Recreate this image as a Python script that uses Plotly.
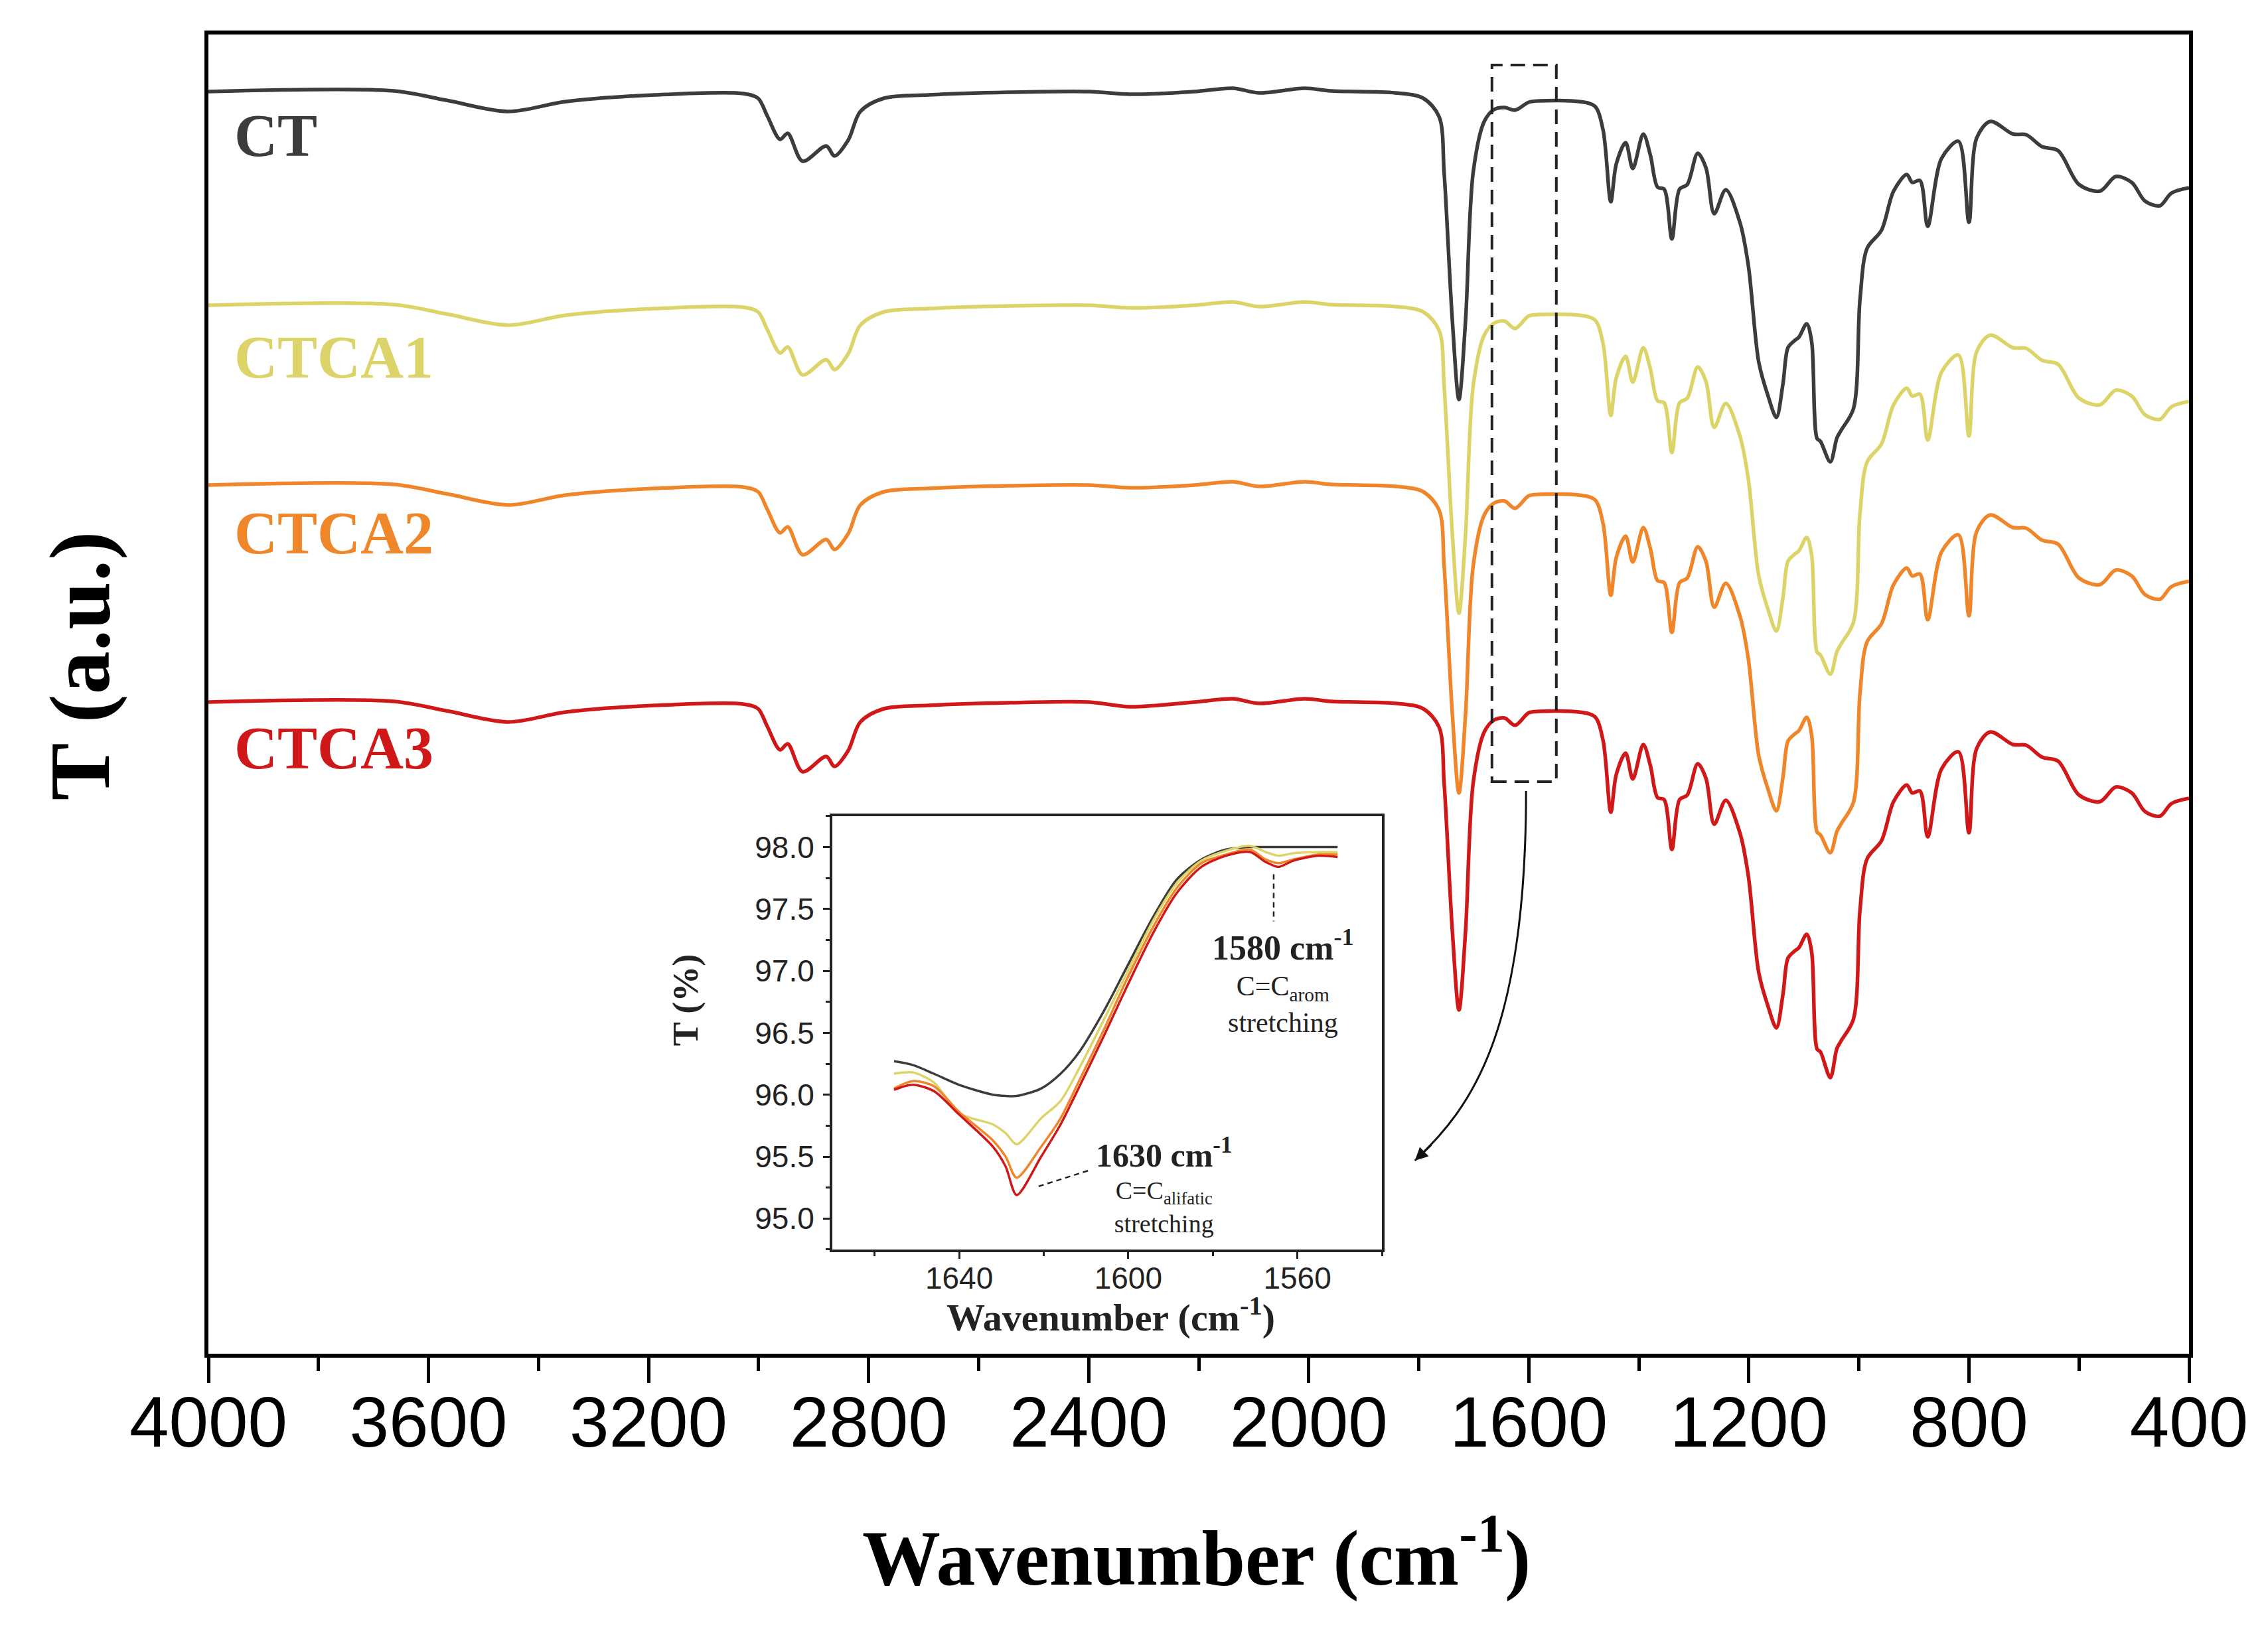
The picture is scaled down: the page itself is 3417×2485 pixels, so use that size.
import plotly.graph_objects as go

# ---------------- main spectra (arbitrary units, stacked) ----------------
wavenumber = [4000, 3663, 3568, 3455, 3350, 3188, 3028, 3001, 2984, 2961,
              2947, 2920, 2877, 2862, 2837, 2815, 2772, 2691, 2545, 2399,
              2325, 2208, 2138, 2091, 2007, 1960, 1843, 1792, 1763, 1754,
              1739, 1727, 1715, 1701, 1681, 1663, 1644, 1625, 1600, 1581,
              1509, 1480, 1465, 1451, 1441, 1424, 1411, 1392, 1379, 1366,
              1354, 1340, 1326, 1312, 1293, 1278, 1263, 1242, 1216, 1201,
              1182, 1165, 1150, 1138, 1129, 1118, 1109, 1095, 1086, 1076,
              1070, 1052, 1040, 1032, 1010, 998, 985, 959, 937, 913,
              903, 889, 875, 850, 819, 800, 786, 761, 720, 696,
              667, 638, 600, 562, 533, 504, 480, 453, 432, 400]

t_ct = [1907, 1908, 1894, 1877, 1892, 1902, 1904, 1897, 1870, 1835,
        1844, 1802, 1825, 1810, 1834, 1877, 1897, 1902, 1906, 1907,
        1903, 1907, 1912, 1905, 1912, 1908, 1905, 1897, 1869, 1786,
        1562, 1443, 1562, 1786, 1862, 1880, 1883, 1879, 1891, 1893,
        1892, 1885, 1849, 1741, 1798, 1830, 1791, 1843, 1811, 1763,
        1760, 1685, 1760, 1767, 1814, 1792, 1723, 1759, 1709, 1645,
        1499, 1448, 1416, 1467, 1521, 1531, 1537, 1557, 1531, 1384,
        1380, 1349, 1385, 1397, 1429, 1594, 1671, 1698, 1757, 1782,
        1770, 1773, 1704, 1806, 1832, 1710, 1837, 1862, 1843, 1842,
        1824, 1818, 1767, 1757, 1779, 1770, 1742, 1735, 1754, 1762]

t_ctca1 = [1585, 1586, 1572, 1555, 1570, 1580, 1582, 1575, 1548, 1513,
           1522, 1480, 1503, 1488, 1512, 1555, 1575, 1580, 1584, 1585,
           1581, 1585, 1590, 1583, 1590, 1586, 1583, 1575, 1547, 1464,
           1240, 1121, 1240, 1464, 1540, 1558, 1561, 1550, 1569, 1571,
           1570, 1563, 1527, 1419, 1476, 1508, 1469, 1521, 1489, 1441,
           1438, 1363, 1438, 1445, 1492, 1470, 1401, 1437, 1387, 1323,
           1177, 1126, 1094, 1145, 1199, 1209, 1215, 1235, 1209, 1062,
           1058, 1029, 1063, 1075, 1107, 1272, 1349, 1376, 1435, 1460,
           1448, 1451, 1382, 1484, 1510, 1388, 1515, 1540, 1521, 1520,
           1502, 1496, 1445, 1435, 1457, 1448, 1420, 1413, 1432, 1440]

t_ctca2 = [1314, 1315, 1301, 1284, 1299, 1309, 1311, 1304, 1277, 1242,
           1251, 1209, 1232, 1217, 1241, 1284, 1304, 1309, 1313, 1314,
           1310, 1314, 1319, 1312, 1319, 1315, 1312, 1304, 1276, 1193,
           969, 850, 969, 1193, 1269, 1287, 1290, 1279, 1298, 1300,
           1299, 1292, 1256, 1148, 1205, 1237, 1198, 1250, 1218, 1170,
           1167, 1092, 1167, 1174, 1221, 1199, 1130, 1166, 1116, 1052,
           906, 855, 823, 874, 928, 938, 944, 964, 938, 791,
           787, 760, 792, 804, 836, 1001, 1078, 1105, 1164, 1189,
           1177, 1180, 1111, 1213, 1239, 1117, 1244, 1269, 1250, 1249,
           1231, 1225, 1174, 1164, 1186, 1177, 1149, 1142, 1161, 1169]

t_ctca3 = [987, 988, 974, 957, 972, 982, 984, 977, 950, 915,
           924, 882, 905, 890, 914, 957, 977, 982, 986, 987,
           980, 987, 992, 985, 992, 988, 985, 977, 949, 866,
           642, 523, 642, 866, 942, 960, 963, 952, 971, 973,
           972, 965, 929, 821, 878, 910, 871, 923, 891, 843,
           840, 765, 840, 847, 894, 872, 803, 839, 789, 725,
           579, 528, 496, 547, 601, 611, 617, 637, 611, 464,
           460, 421, 465, 477, 509, 674, 751, 778, 837, 862,
           850, 853, 784, 886, 912, 790, 917, 942, 923, 922,
           904, 898, 847, 837, 859, 850, 822, 815, 834, 842]

# ---------------- inset (T %) ----------------
inset_wn = [1655.4, 1651, 1646, 1640, 1632, 1629, 1626.4, 1620.6, 1616, 1611.5,
            1605.7, 1600.5, 1594.2, 1588.5, 1582.7, 1576.9, 1571.2, 1567.5,
            1564.5, 1561, 1555, 1550.5]
inset_ct = [96.27, 96.24, 96.17, 96.08, 96.00, 95.99, 95.99, 96.05, 96.17, 96.35,
            96.68, 97.02, 97.43, 97.74, 97.90, 97.98, 98.00, 98.00, 98.00, 98.00,
            98.00, 98.00]
inset_ctca1 = [96.17, 96.18, 96.10, 95.85, 95.76, 95.69, 95.60, 95.81, 95.95, 96.22,
               96.61, 96.97, 97.40, 97.71, 97.89, 97.97, 98.01, 97.96, 97.93, 97.95,
               97.96, 97.96]
inset_ctca2 = [96.05, 96.11, 96.07, 95.86, 95.63, 95.50, 95.33, 95.58, 95.81, 96.12,
               96.53, 96.92, 97.35, 97.67, 97.87, 97.94, 97.98, 97.90, 97.87, 97.90,
               97.94, 97.94]
inset_ctca3 = [96.04, 96.08, 96.03, 95.84, 95.58, 95.42, 95.19, 95.50, 95.76, 96.07,
               96.48, 96.86, 97.30, 97.63, 97.84, 97.93, 97.96, 97.88, 97.84, 97.89,
               97.93, 97.92]

names = ["CT", "CTCA1", "CTCA2", "CTCA3"]
colors = ["#3c3c3c", "#dcd468", "#f0862a", "#d01818"]
main_series = [t_ct, t_ctca1, t_ctca2, t_ctca3]
inset_series = [inset_ct, inset_ctca1, inset_ctca2, inset_ctca3]

SERIF = "Liberation Serif, Times New Roman, serif"
SANS = "Liberation Sans, Arial, sans-serif"

fig = go.Figure()
for n, c, s in zip(names, colors, main_series):
    fig.add_trace(go.Scatter(x=wavenumber, y=s, mode="lines", name=n,
                             line=dict(color=c, width=5.5, shape="spline", smoothing=0.9),
                             xaxis="x", yaxis="y", showlegend=False))
for n, c, s in zip(names, colors, inset_series):
    fig.add_trace(go.Scatter(x=inset_wn, y=s, mode="lines", name=n + " inset",
                             line=dict(color=c, width=3.5, shape="spline", smoothing=0.8),
                             xaxis="x2", yaxis="y2", showlegend=False))

fig.update_layout(
    width=3417, height=2485,
    margin=dict(l=306, r=127, t=44, b=453),
    paper_bgcolor="white", plot_bgcolor="white",
    xaxis=dict(range=[4000, 400], domain=[0, 1], anchor="y",
               showline=True, linecolor="black", linewidth=6, mirror=True,
               ticks="outside", ticklen=38, tickwidth=5, tickcolor="black",
               tick0=400, dtick=400, showgrid=False, zeroline=False,
               tickfont=dict(family=SANS, size=107, color="black"),
               ticklabelstandoff=-32,
               minor=dict(ticks="outside", ticklen=20, tickwidth=5, tickcolor="black",
                          dtick=200, tick0=400, showgrid=False)),
    yaxis=dict(range=[5, 1993], domain=[0, 1], anchor="x",
               showline=True, linecolor="black", linewidth=6, mirror=True,
               ticks="", showticklabels=False, showgrid=False, zeroline=False),
    xaxis2=dict(range=[1670, 1540], domain=[0.3150, 0.5925], anchor="y2",
                showline=True, linecolor="#222", linewidth=4, mirror=True,
                ticks="outside", ticklen=10, tickwidth=3, tickcolor="#222",
                tick0=1560, dtick=40, showgrid=False, zeroline=False,
                tickfont=dict(family=SANS, size=46, color="#222"),
                ticklabelstandoff=-10,
                minor=dict(ticks="outside", ticklen=6, tickwidth=3, tickcolor="#222",
                           dtick=20, tick0=1540, showgrid=False)),
    yaxis2=dict(range=[94.75, 98.25], domain=[0.0790, 0.4075], anchor="x2",
                showline=True, linecolor="#222", linewidth=4, mirror=True,
                ticks="outside", ticklen=10, tickwidth=3, tickcolor="#222",
                tick0=95, dtick=0.5, tickformat=".1f", showgrid=False, zeroline=False,
                tickfont=dict(family=SANS, size=46, color="#222"),
                ticklabelstandoff=4,
                minor=dict(ticks="outside", ticklen=6, tickwidth=3, tickcolor="#222",
                           dtick=0.25, showgrid=False)),
)

annotations = []
# series labels
label_y = [0.9235, 0.7555, 0.6222, 0.4592]
for n, c, yy in zip(names, colors, label_y):
    annotations.append(dict(text=n, x=0.0124, y=yy, xref="paper", yref="paper",
                            xanchor="left", yanchor="middle", showarrow=False,
                            font=dict(family=SERIF, size=90, color=c, weight="bold")))
# axis titles
annotations.append(dict(text="T (a.u.)", x=-0.065, y=0.5215, xref="paper", yref="paper",
                        textangle=-90, xanchor="center", yanchor="middle", showarrow=False,
                        font=dict(family=SERIF, size=130, color="black", weight="bold")))
annotations.append(dict(text="Wavenumber (cm<sup>-1</sup>)", x=0.4987, y=-0.1505,
                        xref="paper", yref="paper", xanchor="center", yanchor="middle",
                        showarrow=False,
                        font=dict(family=SERIF, size=118, color="black", weight="bold")))
# inset titles
annotations.append(dict(text="T (%)", x=0.241, y=0.268, xref="paper", yref="paper",
                        textangle=-90, xanchor="center", yanchor="middle", showarrow=False,
                        font=dict(family=SERIF, size=54, color="#222", weight="bold")))
annotations.append(dict(text="Wavenumber (cm<sup>-1</sup>)", x=0.4555, y=0.0295,
                        xref="paper", yref="paper", xanchor="center", yanchor="middle",
                        showarrow=False,
                        font=dict(family=SERIF, size=58, color="#222", weight="bold")))
# inset band labels (one block per band)
annotations.append(dict(
    text="<span style='font-size:52px'><b>1580 cm<sup>-1</sup></b></span><br>"
         "C=C<sub>arom</sub><br>stretching",
    x=1563.4, y=97.39, xref="x2", yref="y2", xanchor="center", yanchor="top",
    showarrow=False, align="center",
    font=dict(family=SERIF, size=42, color="#222")))
annotations.append(dict(
    text="<span style='font-size:50px'><b>1630 cm<sup>-1</sup></b></span><br>"
         "C=C<sub>alifatic</sub><br>stretching",
    x=1591.5, y=95.71, xref="x2", yref="y2", xanchor="center", yanchor="top",
    showarrow=False, align="center",
    font=dict(family=SERIF, size=38, color="#222")))
# arrowhead at end of curved connector
annotations.append(dict(text="", x=1807, y=296, xref="x", yref="y",
                        ax=26, ay=-25, axref="pixel", ayref="pixel",
                        showarrow=True, arrowhead=2, arrowsize=1.3, arrowwidth=3,
                        arrowcolor="#111"))
fig.update_layout(annotations=annotations)

shapes = [
    # dashed zoom box
    dict(type="rect", xref="x", yref="y", x0=1667, x1=1550, y0=867, y1=1947,
         line=dict(color="#222", width=4, dash="22px,12px")),
    # curved connector
    dict(type="path", xref="x", yref="y",
         path="M 1605,853 C 1605,490 1703,377 1807,296",
         line=dict(color="#111", width=3)),
    # inset dashed pointers
    dict(type="line", xref="x2", yref="y2", x0=1565.6, x1=1565.6, y0=97.78, y1=97.40,
         line=dict(color="#222", width=2.5, dash="8px,6px")),
    dict(type="line", xref="x2", yref="y2", x0=1621.2, x1=1609.2, y0=95.26, y1=95.39,
         line=dict(color="#222", width=2.5, dash="8px,6px")),
]
fig.update_layout(shapes=shapes)

fig.write_html("out.html")
